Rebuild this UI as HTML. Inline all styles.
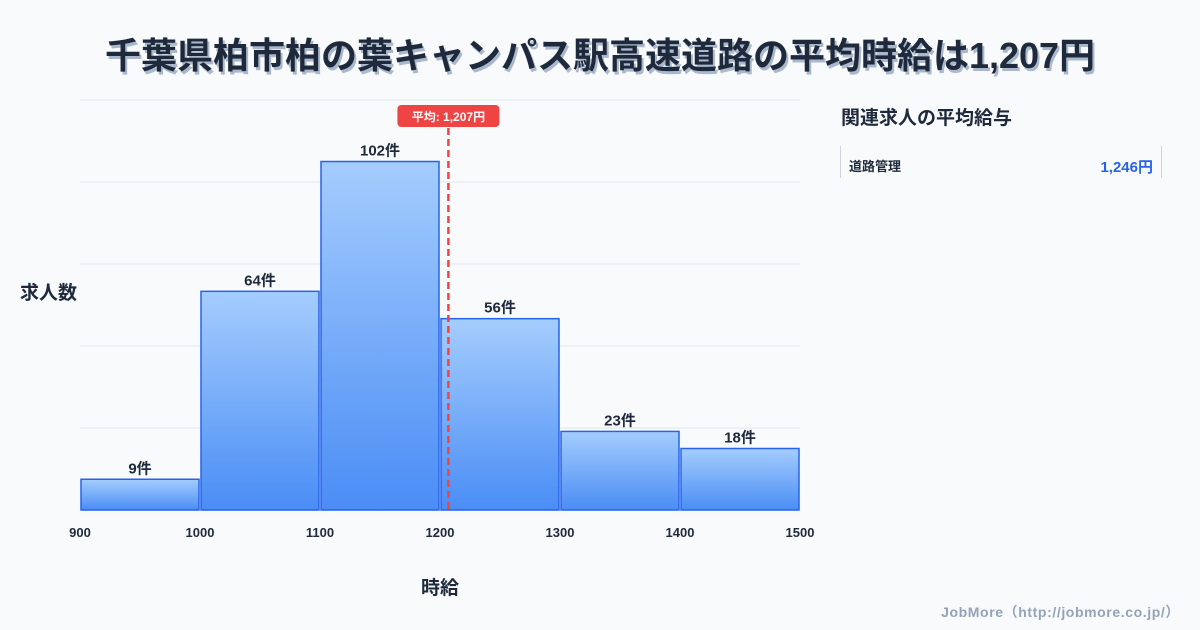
<!DOCTYPE html>
<html><head><meta charset="utf-8"><style>
body{margin:0;width:1200px;height:630px;background:#f8fafc;font-family:"Liberation Sans","Noto Sans CJK JP",sans-serif;overflow:hidden;position:relative;color:#1e293b}
.title{position:absolute;top:27px;left:0;width:1200px;text-align:center;font-size:36px;font-weight:bold;color:#1e293b;text-shadow:2px 3px 0 #a9b8cc;white-space:nowrap}
.side-title{position:absolute;left:841px;top:103px;font-size:19px;font-weight:bold;color:#1e293b}
.row{position:absolute;left:840px;top:146px;width:320px;height:32px;border-left:1px solid #cbd5e1;border-right:1px solid #cbd5e1}
.row .n{position:absolute;left:8px;top:10px;font-size:13px;font-weight:bold;color:#1e293b}
.row .v{position:absolute;right:8px;top:10px;font-size:15px;font-weight:bold;color:#2563eb}
.foot{position:absolute;right:20px;top:602px;font-size:14px;letter-spacing:0.6px;font-weight:bold;color:#94a3b8}
svg{position:absolute;left:0;top:0}
</style></head><body>
<div class="title">千葉県柏市柏の葉キャンパス駅高速道路の平均時給は1,207円</div>
<div class="side-title">関連求人の平均給与</div>
<div class="row"><span class="n">道路管理</span><span class="v">1,246円</span></div>
<div class="foot">JobMore（http://jobmore.co.jp/）</div>
<svg id="chart" width="1200" height="630">
<defs><linearGradient id="g" x1="0" y1="0" x2="0" y2="1"><stop offset="0" stop-color="#a5cdfd"/><stop offset="1" stop-color="#4a8df5"/></linearGradient></defs>
</svg>
<script>
const binStarts=[900,1000,1100,1200,1300,1400];
const counts=[9,64,102,56,23,18];
const xTicks=[900,1000,1100,1200,1300,1400,1500];
const gridVals=[0,24,48,72,96,120];
const average=1207;
const X0=80,X1=800,Y0=510,Y1=100,xmin=900,xmax=1500,ymax=120;
const sx=v=>X0+(v-xmin)/(xmax-xmin)*(X1-X0);
const sy=v=>Y0-v/ymax*(Y0-Y1);
const svg=document.getElementById('chart');
const NS='http://www.w3.org/2000/svg';
function mk(t,a,txt){const e=document.createElementNS(NS,t);for(const k in a)e.setAttribute(k,a[k]);if(txt!=null)e.textContent=txt;svg.appendChild(e);return e;}
gridVals.forEach(v=>{const l=mk('line',{x1:X0,x2:X1,y1:sy(v),y2:sy(v),stroke:'#e2e8f0','stroke-width':1});

});
binStarts.forEach((b,i)=>{const w=sx(b+100)-sx(b);const r=mk('rect',{x:sx(b)+1,y:sy(counts[i]),width:w-2,height:Y0-sy(counts[i]),fill:'url(#g)',stroke:'#2563eb','stroke-width':1.5});


const t=mk('text',{x:sx(b)+w/2,y:sy(counts[i])-6,'text-anchor':'middle','font-size':15,'font-weight':'bold',fill:'#1e293b'},counts[i]+'件');

});
xTicks.forEach(v=>{const t=mk('text',{x:sx(v),y:537,'text-anchor':'middle','font-size':13,'font-weight':'bold',fill:'#1e293b'},v);

});
const ax=sx(average);
const al=mk('line',{x1:ax,x2:ax,y1:128,y2:Y0,stroke:'#ef4444','stroke-width':2.5,'stroke-dasharray':'7,4'});


const ab=mk('rect',{x:ax-51,y:105,width:102,height:22,rx:4,fill:'#ef4444'});


const at=mk('text',{x:ax,y:121,'text-anchor':'middle','font-size':12,'font-weight':'bold',fill:'#fff'},'平均: 1,207円');


const yt=mk('text',{x:20,y:299,'font-size':19,'font-weight':'bold',fill:'#1e293b'},'求人数');


const xt=mk('text',{x:440,y:594,'text-anchor':'middle','font-size':19,'font-weight':'bold',fill:'#1e293b'},'時給');


</script>
</body></html>
